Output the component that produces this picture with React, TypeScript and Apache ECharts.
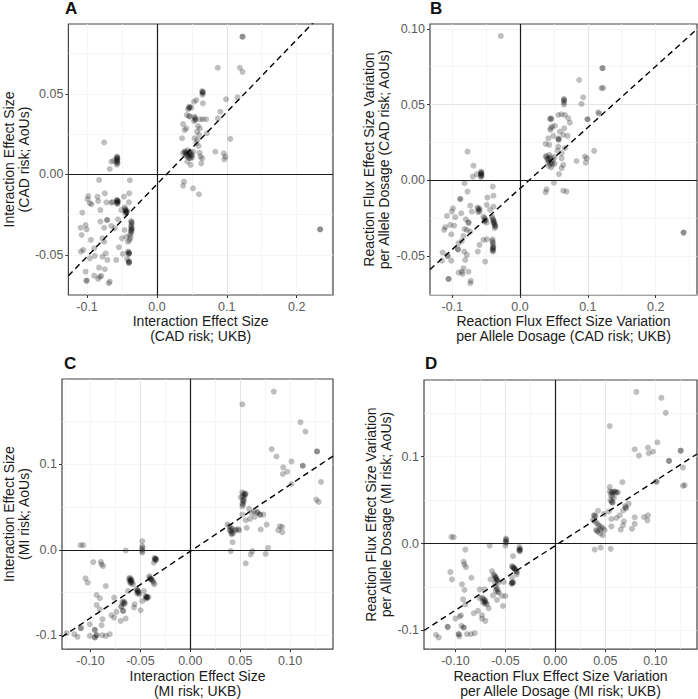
import React, { useEffect, useRef } from "react";
import * as echarts from "echarts";

type Pt = [number, number];

// Panel A: interaction effect size, CAD risk (UKB vs AoUs)
const pointsA: Pt[] = [
  [-0.0755, 0.0198], [-0.0652, 0.0078], [-0.0619, 0.0085], [-0.0676, 0.0033],
  [-0.0572, 0.011], [-0.0565, 0.0102], [-0.0575, 0.0094], [-0.0568, 0.0086], [-0.0572, 0.0078], [-0.0562, 0.0068], [-0.0575, 0.006],
  [-0.057, 0.0105], [-0.0566, 0.0092], [-0.0571, 0.0074],
  [-0.0827, -0.0035], [-0.0387, -0.0037], [-0.0983, -0.0135], [-0.0993, -0.0155], [-0.0959, -0.018], [-0.0936, -0.0186],
  [-0.0851, -0.0139], [-0.0841, -0.0166], [-0.0746, -0.0118], [-0.0723, -0.0174], [-0.0652, -0.0176], [-0.0635, -0.0172],
  [-0.0472, -0.0139], [-0.0397, -0.0118], [-0.0401, -0.0174],
  [-0.0575, -0.0158], [-0.0568, -0.0165], [-0.0562, -0.0172], [-0.0575, -0.0178], [-0.0565, -0.0185], [-0.0555, -0.0168],
  [-0.057, -0.0162], [-0.0566, -0.0176],
  [-0.0809, -0.0222], [-0.1068, -0.0238],
  [-0.0462, -0.0205], [-0.0455, -0.0215], [-0.0448, -0.0222], [-0.0442, -0.0232], [-0.0435, -0.0238], [-0.0425, -0.0228], [-0.0452, -0.0242],
  [-0.0448, -0.0228], [-0.0438, -0.0235],
  [-0.051, -0.0222], [-0.0557, -0.028], [-0.0713, -0.0284], [-0.0713, -0.0284], [-0.0809, -0.0294], [-0.0652, -0.0321],
  [-0.0755, -0.0332], [-0.0604, -0.0336], [-0.1092, -0.0332], [-0.1021, -0.0315], [-0.1007, -0.0342], [-0.1078, -0.0377],
  [-0.0945, -0.0408], [-0.078, -0.0398], [-0.0755, -0.0419], [-0.0501, -0.0398], [-0.0463, -0.0346],
  [-0.0368, -0.029], [-0.036, -0.0302], [-0.0365, -0.0315], [-0.0372, -0.0325], [-0.0358, -0.0335], [-0.0368, -0.0345],
  [-0.0362, -0.0355], [-0.0375, -0.0368], [-0.0385, -0.038], [-0.0378, -0.0395], [-0.0392, -0.041],
  [-0.0365, -0.0298], [-0.0362, -0.0338], [-0.037, -0.0352],
  [-0.044, -0.0388], [-0.0416, -0.0419], [-0.1054, -0.047], [-0.1087, -0.048], [-0.0898, -0.046], [-0.0959, -0.0522],
  [-0.0888, -0.0507], [-0.078, -0.0512], [-0.0732, -0.0491], [-0.0709, -0.0532], [-0.0543, -0.0453], [-0.0582, -0.0532],
  [-0.0416, -0.048], [-0.0401, -0.0485], [-0.0398, -0.049], [-0.0403, -0.0495], [-0.0487, -0.0495], [-0.0426, -0.0526],
  [-0.0401, -0.054], [-0.0398, -0.0545], [-0.0403, -0.0552], [-0.04, -0.0548], [-0.0401, -0.0492],
  [-0.0827, -0.058], [-0.0746, -0.059], [-0.1021, -0.0605], [-0.0817, -0.0636], [-0.0898, -0.063], [-0.0841, -0.065],
  [-0.0794, -0.0632], [-0.1007, -0.0661], [-0.1007, -0.0661], [-0.0675, -0.0667], [-0.0689, -0.0677],
  [0.1225, 0.0855], [0.1225, 0.0855], [0.0871, 0.0662], [0.1187, 0.0662], [0.1225, 0.0637],
  [0.0648, 0.0517], [0.0655, 0.051], [0.0658, 0.0503], [0.065, 0.0495], [0.0652, 0.0512],
  [0.0989, 0.0466], [0.1155, 0.0478], [0.0563, 0.0461], [0.053, 0.0451], [0.0658, 0.0441], [0.046, 0.0416], [0.047, 0.042],
  [0.0445, 0.0404], [0.0492, 0.0414], [0.0908, 0.0389], [0.0426, 0.0368], [0.0468, 0.0358], [0.0539, 0.0358], [0.0553, 0.0342],
  [0.0545, 0.035], [0.053, 0.0331], [0.062, 0.0342], [0.0658, 0.0342], [0.0705, 0.0342], [0.0871, 0.0348], [0.0374, 0.0312],
  [0.0465, 0.0362], [0.0548, 0.0338], [0.0462, 0.0412],
  [0.0421, 0.0286], [0.0397, 0.0275], [0.0587, 0.03], [0.0573, 0.0265], [0.0715, 0.0255], [0.0539, 0.0224], [0.036, 0.0224],
  [0.0577, 0.0213], [0.0563, 0.0193], [0.105, 0.022], [0.0596, 0.0176], [0.0605, 0.0245], [0.0615, 0.0285],
  [0.0397, 0.0141], [0.0374, 0.013], [0.04, 0.014], [0.042, 0.012], [0.045, 0.011], [0.047, 0.013], [0.05, 0.012],
  [0.052, 0.014], [0.048, 0.01], [0.044, 0.015], [0.0468, 0.014], [0.043, 0.0135], [0.049, 0.0115],
  [0.041, 0.0128], [0.0455, 0.0125], [0.0485, 0.0132], [0.0505, 0.0105], [0.0425, 0.0112], [0.0462, 0.0102],
  [0.061, 0.0134], [0.0624, 0.011], [0.0648, 0.0099], [0.0837, 0.014], [0.0956, 0.013], [0.0979, 0.011], [0.0965, 0.0093],
  [0.0435, 0.0078], [0.0482, 0.0058], [0.0634, 0.0068], [0.0388, -0.0046], [0.0374, -0.0071], [0.0516, -0.0087], [0.0601, -0.0124],
  [0.2336, -0.0342], [0.2336, -0.0342],
];

// Panel B: reaction flux effect size variation, CAD risk
const pointsB: Pt[] = [
  [-0.0775, 0.0189], [-0.0687, 0.0096], [-0.0696, 0.0024], [-0.0637, 0.004],
  [-0.0574, 0.0057], [-0.0568, 0.005], [-0.058, 0.0043], [-0.0572, 0.0035], [-0.0565, 0.0028], [-0.0578, 0.002],
  [-0.0571, 0.0047], [-0.0575, 0.0031],
  [-0.0819, -0.002], [-0.0775, -0.0075], [-0.0402, -0.0042], [-0.0392, -0.0102], [-0.0481, -0.0115], [-0.0882, -0.0124],
  [-0.0882, -0.0124], [-0.099, -0.0185], [-0.1005, -0.0207], [-0.1078, -0.0236], [-0.0956, -0.0244], [-0.0868, -0.0218],
  [-0.0735, -0.0168], [-0.071, -0.0207],
  [-0.063, -0.018], [-0.0615, -0.019], [-0.0605, -0.0198], [-0.0595, -0.0205], [-0.062, -0.021], [-0.0598, -0.0185],
  [-0.049, -0.0163], [-0.0441, -0.0196], [-0.0392, -0.0174], [-0.0799, -0.0258], [-0.076, -0.028], [-0.076, -0.028],
  [-0.054, -0.024], [-0.0525, -0.025], [-0.0515, -0.026], [-0.053, -0.0272], [-0.0495, -0.028], [-0.0505, -0.0265],
  [-0.0415, -0.024], [-0.0405, -0.0252], [-0.0395, -0.0262], [-0.0385, -0.0275], [-0.0378, -0.0285], [-0.0368, -0.0295],
  [-0.0362, -0.0305], [-0.0375, -0.0317], [-0.0395, -0.0282], [-0.039, -0.0268], [-0.0372, -0.0301],
  [-0.1103, -0.031], [-0.1029, -0.0295], [-0.0971, -0.03], [-0.1118, -0.0328], [-0.0819, -0.0322], [-0.0784, -0.0328],
  [-0.0735, -0.0339], [-0.1015, -0.0357], [-0.0834, -0.0368], [-0.0858, -0.0401], [-0.0907, -0.0416], [-0.054, -0.0394],
  [-0.049, -0.039],
  [-0.0405, -0.039], [-0.041, -0.0402], [-0.0398, -0.0412], [-0.0402, -0.0425], [-0.0392, -0.0438], [-0.0398, -0.045],
  [-0.0405, -0.0465], [-0.0395, -0.047], [-0.04, -0.0445], [-0.0402, -0.0458],
  [-0.0598, -0.0427], [-0.0916, -0.0456], [-0.0916, -0.0456], [-0.0824, -0.0471], [-0.0784, -0.0493], [-0.0623, -0.0471],
  [-0.1142, -0.0478], [-0.1069, -0.05], [-0.1069, -0.05], [-0.1152, -0.0531], [-0.1015, -0.0531], [-0.0809, -0.0526],
  [-0.0515, -0.0537], [-0.0834, -0.0581], [-0.0858, -0.0604], [-0.0907, -0.061], [-0.0848, -0.0619], [-0.076, -0.0604],
  [-0.1054, -0.0652], [-0.1054, -0.0652], [-0.0725, -0.0665], [-0.0735, -0.068],
  [-0.0284, 0.0953],
  [0.1216, 0.074], [0.1216, 0.074], [0.0872, 0.0662], [0.1201, 0.0608], [0.1225, 0.061], [0.0931, 0.0548],
  [0.0647, 0.0537], [0.0652, 0.0525], [0.0645, 0.0513], [0.065, 0.05], [0.0648, 0.0531],
  [0.0907, 0.0504], [0.0456, 0.041], [0.0462, 0.0402], [0.0441, 0.0405], [0.0564, 0.0431], [0.0613, 0.0436], [0.0662, 0.0431],
  [0.0711, 0.041], [0.0735, 0.038], [0.0995, 0.0403], [0.0995, 0.0403], [0.1152, 0.0449], [0.1167, 0.044], [0.0475, 0.0354],
  [0.0515, 0.036], [0.0652, 0.0343], [0.0446, 0.0332], [0.0588, 0.0321], [0.0417, 0.0277], [0.049, 0.0293], [0.0564, 0.0277],
  [0.0572, 0.027], [0.0637, 0.03], [0.0701, 0.0293], [0.0378, 0.024], [0.0431, 0.0233], [0.0564, 0.0222], [0.0554, 0.0196],
  [0.0662, 0.0212], [0.0613, 0.0178], [0.0378, 0.0156], [0.0431, 0.0167], [0.0568, 0.0268], [0.0452, 0.0345],
  [0.039, 0.016], [0.041, 0.0145], [0.043, 0.013], [0.045, 0.0152], [0.047, 0.012], [0.049, 0.0138], [0.051, 0.011],
  [0.0425, 0.0095], [0.046, 0.0085], [0.0505, 0.0155], [0.0445, 0.011],
  [0.04, 0.0138], [0.0438, 0.0142], [0.0478, 0.0105], [0.0415, 0.0118],
  [0.0613, 0.0145], [0.0637, 0.0101], [0.0613, 0.008], [0.0833, 0.0127], [0.0956, 0.0156], [0.097, 0.0116], [0.0985, 0.0145],
  [0.1093, 0.0194], [0.0574, 0.004], [0.05, -0.0016], [0.0392, -0.006], [0.0378, -0.0079], [0.0637, -0.0069], [0.0686, -0.0075],
  [0.2412, -0.0346], [0.2412, -0.0346],
];

// Panel C: interaction effect size, MI risk
const pointsC: Pt[] = [
  [-0.11, 0.0053], [-0.1073, 0.0053], [-0.0482, 0.01],
  [-0.0482, 0.004], [-0.0478, 0.0022], [-0.0485, 0.0005], [-0.048, -0.0015], [-0.0482, -0.0035],
  [-0.0648, -0.0008], [-0.0973, -0.0144], [-0.0897, -0.014], [-0.089, -0.0171], [-0.0873, -0.019], [-0.0365, -0.0151],
  [-0.0359, -0.0093], [-0.0352, -0.0102], [-0.0345, -0.011], [-0.034, -0.0118], [-0.0355, -0.012], [-0.0349, -0.0106],
  [-0.105, -0.0334], [-0.103, -0.0384], [-0.0847, -0.0423],
  [-0.0608, -0.0326], [-0.0598, -0.0338], [-0.0588, -0.035], [-0.0605, -0.036], [-0.0592, -0.0372], [-0.0582, -0.0383],
  [-0.06, -0.0393], [-0.0574, -0.0403], [-0.0615, -0.0345], [-0.0596, -0.0356], [-0.0602, -0.0378],
  [-0.0624, -0.0481],
  [-0.054, -0.046], [-0.0532, -0.0472], [-0.0525, -0.0485], [-0.0518, -0.0497], [-0.0535, -0.0508], [-0.051, -0.052],
  [-0.0528, -0.0478], [-0.0522, -0.0502],
  [-0.041, -0.0326], [-0.0395, -0.0338], [-0.0385, -0.035], [-0.0375, -0.0365], [-0.0368, -0.0385], [-0.036, -0.0403],
  [-0.0402, -0.0345], [-0.0392, -0.0342],
  [-0.0409, -0.0307], [-0.0465, -0.0481],
  [-0.0448, -0.054], [-0.0442, -0.0548], [-0.0435, -0.0555], [-0.0428, -0.0562], [-0.0445, -0.0572], [-0.042, -0.055],
  [-0.0438, -0.0552],
  [-0.0482, -0.0597], [-0.094, -0.0528], [-0.0907, -0.0566], [-0.0764, -0.0558], [-0.094, -0.0644], [-0.0907, -0.0694],
  [-0.0681, -0.0609], [-0.0691, -0.0663], [-0.0691, -0.0663], [-0.0658, -0.0616], [-0.0665, -0.0605], [-0.0672, -0.0625],
  [-0.0658, -0.0632], [-0.0558, -0.0636], [-0.0564, -0.0674], [-0.0498, -0.0706], [-0.0674, -0.0714], [-0.0674, -0.0714],
  [-0.0741, -0.0725], [-0.0791, -0.0764], [-0.0764, -0.0791], [-0.088, -0.081], [-0.0698, -0.083], [-0.0648, -0.0802],
  [-0.1007, -0.0869], [-0.089, -0.088], [-0.1097, -0.0915], [-0.1097, -0.0915], [-0.0957, -0.0934], [-0.0957, -0.0934],
  [-0.094, -0.0997], [-0.094, -0.0997], [-0.0957, -0.1023], [-0.0957, -0.1023], [-0.0883, -0.0997], [-0.0847, -0.1005],
  [-0.0808, -0.0985], [-0.1007, -0.1005], [-0.1163, -0.0985], [-0.113, -0.1016], [-0.1239, -0.0973],
  [0.0837, 0.1845], [0.0522, 0.1697], [0.1104, 0.1488], [0.1154, 0.1379], [0.0815, 0.1174], [0.0864, 0.1088],
  [0.1014, 0.103], [0.127, 0.1147], [0.127, 0.1147], [0.1127, 0.098], [0.1127, 0.098], [0.0931, 0.0961], [0.0971, 0.091],
  [0.0927, 0.0884], [0.1014, 0.0767], [0.131, 0.0791], [0.1263, 0.0585], [0.1286, 0.0558],
  [0.052, 0.067], [0.0535, 0.0655], [0.055, 0.064], [0.0525, 0.0625], [0.054, 0.061], [0.0555, 0.0655], [0.053, 0.0585],
  [0.0535, 0.056], [0.0522, 0.054], [0.0528, 0.0527], [0.0545, 0.0648], [0.0532, 0.0572],
  [0.0506, 0.061], [0.0522, 0.0507], [0.0588, 0.0477], [0.0638, 0.0449], [0.0672, 0.0437], [0.0672, 0.0437], [0.0698, 0.041],
  [0.0698, 0.041], [0.0615, 0.043], [0.0522, 0.041], [0.0732, 0.041], [0.0598, 0.036], [0.0645, 0.0384], [0.0555, 0.0344],
  [0.0765, 0.0294], [0.0897, 0.0274], [0.0921, 0.0267], [0.0881, 0.0228], [0.0921, 0.0205], [0.0705, 0.0236], [0.0565, 0.0256],
  [0.0373, 0.0295], [0.039, 0.0275], [0.0405, 0.026], [0.042, 0.0245], [0.0395, 0.023], [0.041, 0.021], [0.043, 0.0195],
  [0.0445, 0.0225], [0.046, 0.0235], [0.048, 0.024], [0.049, 0.0225], [0.0415, 0.0178], [0.0402, 0.0228], [0.0412, 0.0192],
  [0.0423, 0.0088], [0.0406, -0.0016], [0.0622, -0.0016], [0.0605, -0.0055], [0.0755, -0.0047], [0.0778, 0.0023], [0.0555, -0.0159],
];

// Panel D: reaction flux effect size variation, MI risk
const pointsD: Pt[] = [
  [-0.104, 0.0077], [-0.1017, 0.0073],
  [-0.0494, 0.0057], [-0.0492, 0.0045], [-0.0496, 0.0032], [-0.0494, 0.002], [-0.0492, 0.0008],
  [-0.0657, -0.0023], [-0.05, -0.0023], [-0.09, -0.0069], [-0.036, -0.0038],
  [-0.0357, -0.006], [-0.0352, -0.007], [-0.0362, -0.008], [-0.0355, -0.009], [-0.0358, -0.0075],
  [-0.0424, -0.0145], [-0.0917, -0.021], [-0.091, -0.0241], [-0.0894, -0.0272],
  [-0.0434, -0.026], [-0.0425, -0.027], [-0.0415, -0.028], [-0.0405, -0.0292], [-0.0398, -0.0305], [-0.039, -0.0318],
  [-0.0384, -0.033], [-0.0388, -0.0356], [-0.0428, -0.0275], [-0.041, -0.0288],
  [-0.105, -0.0329], [-0.1034, -0.0413], [-0.084, -0.0394],
  [-0.0617, -0.0356], [-0.061, -0.037], [-0.06, -0.0385], [-0.0592, -0.04], [-0.0585, -0.0415], [-0.0578, -0.043],
  [-0.0567, -0.045], [-0.0605, -0.0445], [-0.0598, -0.0392], [-0.0588, -0.0422],
  [-0.0634, -0.0317], [-0.065, -0.0413],
  [-0.0434, -0.045], [-0.0428, -0.0458], [-0.044, -0.0462], [-0.0422, -0.0445], [-0.0432, -0.0452],
  [-0.0434, -0.0394], [-0.0517, -0.0443], [-0.0934, -0.047], [-0.091, -0.0535],
  [-0.06, -0.049], [-0.059, -0.051], [-0.058, -0.0528], [-0.0595, -0.0545], [-0.0575, -0.0556], [-0.0567, -0.0566],
  [-0.0757, -0.0528], [-0.0707, -0.0528], [-0.0624, -0.0596], [-0.0534, -0.0604], [-0.05, -0.0604], [-0.0584, -0.065],
  [-0.0524, -0.0719],
  [-0.0734, -0.0623], [-0.072, -0.0635], [-0.071, -0.0648], [-0.07, -0.066], [-0.0725, -0.0672], [-0.0695, -0.0685],
  [-0.0684, -0.07], [-0.0712, -0.0692], [-0.0705, -0.0668],
  [-0.0667, -0.0745], [-0.0757, -0.063], [-0.0924, -0.0642], [-0.09, -0.07], [-0.0774, -0.0776], [-0.0817, -0.0803],
  [-0.0734, -0.0826], [-0.07, -0.0891], [-0.0734, -0.0864], [-0.0944, -0.0826], [-0.0957, -0.0841], [-0.1, -0.0864],
  [-0.094, -0.0948], [-0.0917, -0.0967], [-0.0917, -0.0967], [-0.1077, -0.096], [-0.1077, -0.096], [-0.0884, -0.1044],
  [-0.0844, -0.1044], [-0.0807, -0.1032], [-0.0967, -0.1044], [-0.0967, -0.1044], [-0.096, -0.107], [-0.1194, -0.1051],
  [-0.1167, -0.1082],
  [0.081, 0.1747], [0.106, 0.1678], [0.1103, 0.1506], [0.0543, 0.1353], [0.102, 0.1166], [0.0793, 0.1086], [0.0926, 0.1104],
  [0.0976, 0.1058], [0.0933, 0.104], [0.0836, 0.1013], [0.1253, 0.107], [0.1253, 0.107], [0.1136, 0.0952], [0.1136, 0.0952],
  [0.1276, 0.0875], [0.101, 0.0714], [0.101, 0.0714], [0.1276, 0.0665], [0.1293, 0.0673], [0.067, 0.0707], [0.0543, 0.065],
  [0.0543, 0.06], [0.056, 0.0585], [0.0578, 0.0595], [0.0595, 0.06], [0.061, 0.0585], [0.0626, 0.059], [0.0555, 0.0555],
  [0.057, 0.054], [0.0585, 0.0525], [0.055, 0.05], [0.0565, 0.0592], [0.0602, 0.0592], [0.0562, 0.0482],
  [0.0566, 0.0474], [0.0575, 0.047], [0.0733, 0.0459], [0.0703, 0.0417], [0.0708, 0.0405], [0.0698, 0.043], [0.0676, 0.0382],
  [0.0426, 0.0378], [0.0536, 0.037], [0.0486, 0.0341], [0.0643, 0.0325], [0.0393, 0.0321], [0.04, 0.0315], [0.0385, 0.0328],
  [0.061, 0.0294], [0.056, 0.0283], [0.0793, 0.0302], [0.0886, 0.0306], [0.0926, 0.0325], [0.092, 0.0267], [0.0686, 0.0256],
  [0.0676, 0.021], [0.0793, 0.0226], [0.0766, 0.0169], [0.0653, 0.0161], [0.056, 0.0198],
  [0.0376, 0.0275], [0.039, 0.026], [0.041, 0.024], [0.0425, 0.022], [0.044, 0.0205], [0.046, 0.019], [0.0475, 0.0175],
  [0.0493, 0.0155], [0.0405, 0.0155], [0.0425, 0.0135], [0.045, 0.0115], [0.0475, 0.0095], [0.0418, 0.0148], [0.0448, 0.0162],
  [0.0393, -0.0069], [0.0453, -0.0046], [0.0553, -0.0061],
];

// Fitted reference lines (intercept, slope) per panel
const fitA = { intercept: -0.0062, slope: 0.449 };
const fitB = { intercept: -0.0054, slope: 0.403 };
const fitC = { intercept: -0.0018, slope: 0.7766 };
const fitD = { intercept: -0.0023, slope: 0.745 };

// Axis ticks
const xTicksAB = [-0.1, 0, 0.1, 0.2];
const yTicksA = [-0.05, 0, 0.05];
const yTicksB = [-0.05, 0, 0.05, 0.1];
const xTicksCD = [-0.1, -0.05, 0, 0.05, 0.1];
const yTicksCD = [-0.1, 0, 0.1];

// Axis titles
const titleInteraction = "Interaction Effect Size";
const titleFlux = "Reaction Flux Effect Size Variation\nper Allele Dosage";

const FONT = "'Liberation Sans', Arial, Helvetica, sans-serif";

interface Panel {
  letter: string;
  letterPos: [number, number];
  grid: { left: number; top: number; width: number; height: number };
  xRange: [number, number];
  yRange: [number, number];
  xStep: number;
  yStep: number;
  xTicks: number[];
  yTicks: number[];
  xDigits: number;
  yDigits: number;
  xName: string;
  yName: string;
  xGap: number;
  yGap: number;
  points: Pt[];
  fit: { intercept: number; slope: number };
}

const panels: Panel[] = [
  {
    letter: "A", letterPos: [65, 0],
    grid: { left: 66, top: 24, width: 267, height: 271 },
    xRange: [-0.1267, 0.252], yRange: [-0.075, 0.0934], xStep: 0.1, yStep: 0.05,
    xTicks: xTicksAB, yTicks: yTicksA, xDigits: 1, yDigits: 2,
    xName: titleInteraction + "\n(CAD risk; UKB)", yName: titleInteraction + "\n(CAD risk; AoUs)",
    xGap: 18, yGap: 37, points: pointsA, fit: fitA,
  },
  {
    letter: "B", letterPos: [430, 0],
    grid: { left: 430, top: 24, width: 267, height: 271 },
    xRange: [-0.1328, 0.261], yRange: [-0.0758, 0.1032], xStep: 0.1, yStep: 0.05,
    xTicks: xTicksAB, yTicks: yTicksB, xDigits: 1, yDigits: 2,
    xName: titleFlux + " (CAD risk; UKB)", yName: titleFlux + " (CAD risk; AoUs)",
    xGap: 18, yGap: 39, points: pointsB, fit: fitB,
  },
  {
    letter: "C", letterPos: [64, 355],
    grid: { left: 60, top: 379, width: 273, height: 271 },
    xRange: [-0.1286, 0.143], yRange: [-0.1159, 0.1992], xStep: 0.05, yStep: 0.1,
    xTicks: xTicksCD, yTicks: yTicksCD, xDigits: 2, yDigits: 1,
    xName: titleInteraction + "\n(MI risk; UKB)", yName: titleInteraction + "\n(MI risk; AoUs)",
    xGap: 18, yGap: 31, points: pointsC, fit: fitC,
  },
  {
    letter: "D", letterPos: [425, 355],
    grid: { left: 424, top: 380, width: 273, height: 270 },
    xRange: [-0.1314, 0.1416], yRange: [-0.1216, 0.1884], xStep: 0.05, yStep: 0.1,
    xTicks: xTicksCD, yTicks: yTicksCD, xDigits: 2, yDigits: 1,
    xName: titleFlux + " (MI risk; UKB)", yName: titleFlux + " (MI risk; AoUs)",
    xGap: 18, yGap: 31, points: pointsD, fit: fitD,
  },
];

function buildOption() {
  const grids: any[] = [];
  const xAxes: any[] = [];
  const yAxes: any[] = [];
  const series: any[] = [];
  const graphics: any[] = [];

  const nameStyle = { fontSize: 14, color: "#1a1a1a", lineHeight: 15, fontFamily: FONT };
  const majorLine = { color: "#e4e4e4", width: 1 };
  const minorLine = { color: "#f0f0f0", width: 0.7 };

  panels.forEach((p, i) => {
    grids.push({
      ...p.grid,
      show: true,
      borderColor: "#444",
      borderWidth: 1.2,
      backgroundColor: "transparent",
      containLabel: false,
    });

    const mkAxis = (
      position: string,
      range: [number, number],
      step: number,
      ticks: number[],
      digits: number,
      name: string,
      gap: number,
      minor: boolean
    ) => {
      const s = minor ? step / 2 : step;
      return {
        gridIndex: i,
        type: "value",
        position,
        offset: 0,
        min: range[0],
        max: range[1],
        minInterval: s,
        maxInterval: s,
        splitNumber: 6,
        z: minor ? 0 : 1,
        axisLine: { show: false, onZero: false },
        axisTick: minor
          ? { show: false }
          : { show: true, customValues: ticks, length: 3, lineStyle: { color: "#333", width: 1 } },
        axisLabel: minor
          ? { show: false }
          : {
              customValues: ticks,
              formatter: (v: number) => v.toFixed(digits),
              color: "#5a5a5a",
              fontSize: 12.5,
              fontFamily: FONT,
              margin: 5,
            },
        splitLine: {
          show: true,
          showMinLine: false,
          showMaxLine: false,
          lineStyle: minor ? minorLine : majorLine,
        },
        name: minor ? "" : name,
        nameLocation: "middle",
        nameGap: gap,
        nameTextStyle: nameStyle,
      };
    };

    xAxes.push(mkAxis("bottom", p.xRange, p.xStep, p.xTicks, p.xDigits, "", 0, true));
    xAxes.push(mkAxis("bottom", p.xRange, p.xStep, p.xTicks, p.xDigits, p.xName, p.xGap, false));
    yAxes.push(mkAxis("left", p.yRange, p.yStep, p.yTicks, p.yDigits, "", 0, true));
    yAxes.push(mkAxis("left", p.yRange, p.yStep, p.yTicks, p.yDigits, p.yName, p.yGap, false));

    const xa = 2 * i + 1;
    const ya = 2 * i + 1;

    series.push({
      type: "scatter",
      xAxisIndex: xa,
      yAxisIndex: ya,
      data: p.points,
      symbol: "circle",
      symbolSize: 6,
      itemStyle: { color: "#000", opacity: 0.25 },
      silent: true,
      z: 3,
      markLine: {
        silent: true,
        symbol: "none",
        label: { show: false },
        lineStyle: { color: "#1a1a1a", width: 1.2, type: "solid" },
        data: [{ xAxis: 0 }, { yAxis: 0 }],
      },
    });

    const x0 = p.xRange[0];
    const x1 = p.xRange[1];
    series.push({
      type: "line",
      xAxisIndex: xa,
      yAxisIndex: ya,
      data: [
        [x0, p.fit.intercept + p.fit.slope * x0],
        [x1, p.fit.intercept + p.fit.slope * x1],
      ],
      showSymbol: false,
      symbol: "none",
      clip: true,
      silent: true,
      z: 4,
      lineStyle: { color: "#000", width: 1.4, type: [6, 4] },
    });

    graphics.push({
      type: "text",
      left: p.letterPos[0],
      top: p.letterPos[1],
      style: {
        text: p.letter,
        fill: "#111",
        font: `bold 17px ${FONT}`,
      },
    });
  });

  return {
    animation: false,
    backgroundColor: "#fff",
    grid: grids,
    xAxis: xAxes,
    yAxis: yAxes,
    series,
    graphic: graphics,
  };
}

export default function App() {
  const ref = useRef<HTMLDivElement>(null);
  useEffect(() => {
    if (!ref.current) return;
    const chart = echarts.init(ref.current, undefined, { renderer: "svg" });
    chart.setOption(buildOption() as any);
    return () => chart.dispose();
  }, []);
  return (
    <div
      ref={ref}
      style={{ position: "fixed", left: 0, top: 0, width: 698, height: 699, background: "#fff" }}
    />
  );
}
